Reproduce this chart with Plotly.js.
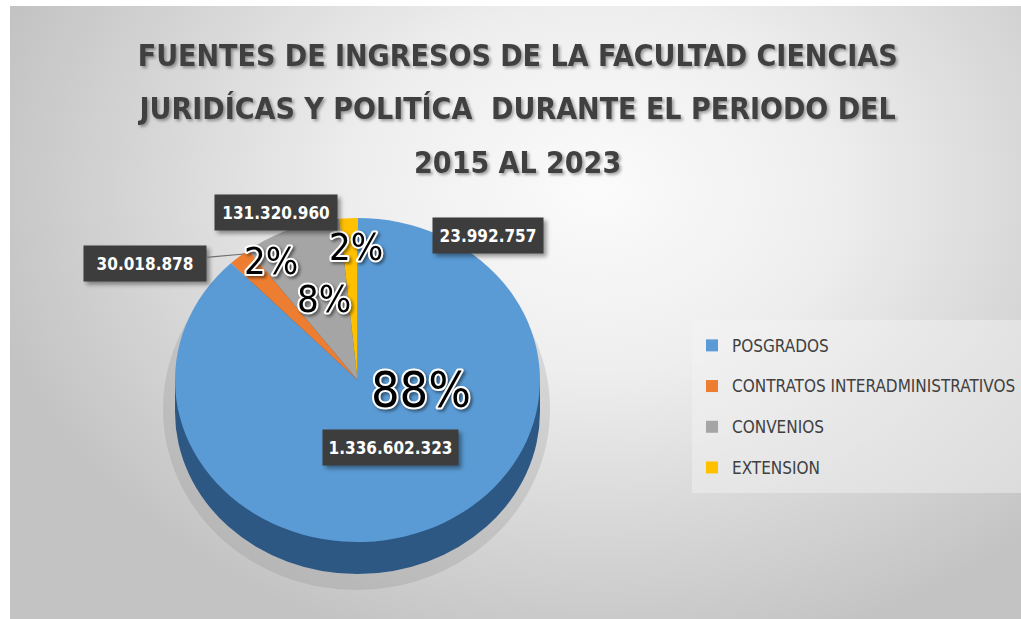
<!DOCTYPE html>
<html><head><meta charset="utf-8">
<script src="https://cdn.plot.ly/plotly-3.0.1.min.js"></script>
<style>
html,body{margin:0;padding:0;background:#fff;}
#bg{position:absolute;left:10px;top:6px;width:1011px;height:613px;
  background:radial-gradient(ellipse 62% 78% at 58% 30%, #fbfbfb 0%, #eeeeee 38%, #d6d6d6 72%, #c3c3c3 100%);}
#chart{position:absolute;left:0;top:0;width:1021px;height:619px;}
.gtitle{filter:drop-shadow(2px 2px 1.5px rgba(0,0,0,0.35));}
.annotation[data-index="0"] .annotation-text,
.annotation[data-index="1"] .annotation-text,
.annotation[data-index="2"] .annotation-text,
.annotation[data-index="3"] .annotation-text{
  paint-order:stroke; stroke:#ffffff; stroke-width:4px; stroke-linejoin:round;
  filter:drop-shadow(2px 2px 1.5px rgba(0,0,0,0.45));}
.annotation[data-index="4"] rect.bg,
.annotation[data-index="5"] rect.bg,
.annotation[data-index="6"] rect.bg,
.annotation[data-index="7"] rect.bg{filter:drop-shadow(3px 3px 2px rgba(0,0,0,0.4));}
</style>
</head><body>
<div id="bg"></div>
<div id="chart"></div>
<script>
// ---- data ----
const categories = ['POSGRADOS', 'CONTRATOS INTERADMINISTRATIVOS', 'CONVENIOS', 'EXTENSION'];
const values = [1336602323, 30018878, 131320960, 23992757];
const percentLabels = ['88%', '2%', '8%', '2%'];
const titleLines = ['FUENTES DE INGRESOS DE LA FACULTAD CIENCIAS',
                    'JURIDÍCAS Y POLITÍCA\u00a0 DURANTE EL PERIODO DEL',
                    '2015 AL 2023'];

// ---- style / layout ----
const colors = ['#5B9BD5', '#ED7D31', '#A5A5A5', '#FFC000'];
const W = 1021, H = 619;
const NARROW = '"Liberation Sans Narrow", "Arial Narrow", "DejaVu Sans Condensed", sans-serif';
const cx = 357.5, cy = 380, R = 182.5, sy = 0.888, depth = 32;
const ry = R * sy;
const pctPos = [[421, 390], [271, 261], [324, 299], [356, 247]];
const pctSize = [50, 38, 38, 38];
const valPos = [[390, 447], [145, 263], [276, 212], [488, 236]];
const leaderPt = [null, [244, 254], null, null];

const px = x => x / W;
const py = y => 1 - y / H;
const fmt = v => String(v).replace(/\B(?=(\d{3})+(?!\d))/g, '.');

const data = [{
  type: 'pie',
  labels: categories.map(c => '<span style="font-size:17px">' + c + '</span>'),
  values: values,
  sort: false,
  direction: 'clockwise',
  rotation: 0,
  marker: {colors: colors, line: {width: 0}},
  textinfo: 'none',
  hoverinfo: 'skip',
  domain: {x: [px(cx - R), px(cx + R)], y: [py(cy + R), py(cy - R)]}
}];

const annotations = [];
percentLabels.forEach((t, i) => {
  annotations.push({
    xref: 'paper', yref: 'paper', x: px(pctPos[i][0]), y: py(pctPos[i][1]),
    xanchor: 'center', yanchor: 'middle', showarrow: false, text: t,
    font: {family: NARROW, size: pctSize[i], color: '#000000'}
  });
});
values.forEach((v, i) => {
  const a = {
    xref: 'paper', yref: 'paper', text: fmt(v),
    font: {family: NARROW, size: 17, color: '#ffffff', weight: 'bold'},
    bgcolor: '#3d3d3d', borderpad: 0, width: (i === 0 ? 135 : (i === 3 ? 110 : 122)), height: 35,
    xanchor: 'center', yanchor: 'middle'
  };
  if (leaderPt[i]) {
    a.x = px(leaderPt[i][0]); a.y = py(leaderPt[i][1]);
    a.showarrow = true; a.arrowhead = 0; a.arrowwidth = 1.2; a.arrowcolor = '#6f6f6f';
    a.ax = valPos[i][0] - leaderPt[i][0]; a.ay = valPos[i][1] - leaderPt[i][1];
    a.standoff = 0;
  } else {
    a.x = px(valPos[i][0]); a.y = py(valPos[i][1]); a.showarrow = false;
  }
  annotations.push(a);
});

const shapes = [
  {type: 'circle', xref: 'paper', yref: 'paper', layer: 'below', line: {width: 0},
   fillcolor: 'rgba(110,110,110,0.18)',
   x0: px(cx - R - 12), x1: px(cx + R + 10), y0: py(cy + depth + ry + 16), y1: py(cy - ry + 10)},
  {type: 'rect', xref: 'paper', yref: 'paper', layer: 'below', line: {width: 0},
   fillcolor: '#2d5884',
   x0: px(cx - R), x1: px(cx + R), y0: py(cy + depth), y1: py(cy)},
  {type: 'circle', xref: 'paper', yref: 'paper', layer: 'below', line: {width: 0},
   fillcolor: '#2d5884',
   x0: px(cx - R), x1: px(cx + R), y0: py(cy + depth + ry), y1: py(cy + depth - ry)}
];

const layout = {
  width: W, height: H,
  margin: {l: 0, r: 0, t: 0, b: 0},
  paper_bgcolor: 'rgba(0,0,0,0)',
  plot_bgcolor: 'rgba(0,0,0,0)',
  title: {
    text: titleLines.map(l => '<span style="font-size:30px">' + l + '</span>').join('<br>'),
    font: {family: NARROW, size: 41, color: '#404040', weight: 'bold'},
    x: 0.507, xanchor: 'center', xref: 'container',
    y: 1 - 66 / H, yanchor: 'top', yref: 'container'
  },
  showlegend: true,
  legend: {
    x: px(692), xanchor: 'left', y: py(320), yanchor: 'top',
    font: {family: NARROW, size: 29, color: '#404040'},
    bgcolor: 'rgba(245,245,245,0.45)', borderwidth: 0,
    itemclick: false, itemdoubleclick: false
  },
  annotations: annotations,
  shapes: shapes
};

Plotly.newPlot('chart', data, layout, {staticPlot: true, displayModeBar: false}).then(gd => {
  const pl = gd.querySelector('.pielayer');
  if (pl) pl.setAttribute('transform', `translate(0,${cy}) scale(1,${sy}) translate(0,${-cy})`);
  gd.querySelectorAll('.legendtext').forEach(t => t.setAttribute('transform', 'translate(0,-5)'));
});
</script>
</body></html>
